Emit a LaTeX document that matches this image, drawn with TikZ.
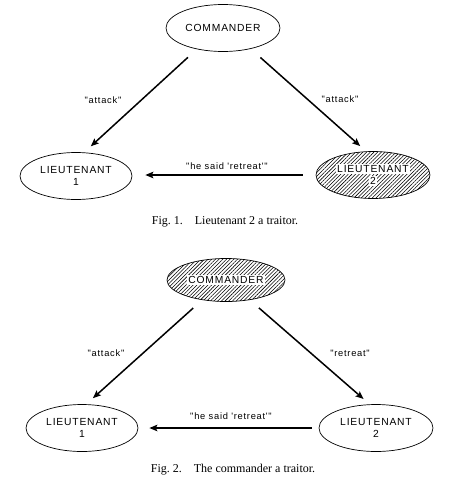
\documentclass[tikz,border=0pt]{standalone}
\usepackage{fontspec}
\setmainfont{Liberation Serif}
\newfontfamily\labelfont[LetterSpace=8,Ligatures=TeXOff]{Liberation Sans}
\usetikzlibrary{arrows.meta,shapes.geometric,patterns.meta}
\newcommand{\wb}[1]{{\setlength{\fboxsep}{1.2pt}\colorbox{white}{#1}}}

\begin{document}
\begin{tikzpicture}[x=1pt,y=-1pt,
party/.style={ellipse,draw,line width=0.7pt,
minimum width=112pt,minimum height=47pt,inner sep=0pt,
align=center,font=\labelfont\fontsize{10.3}{12.5}\selectfont},
traitor/.style={party,pattern={Lines[angle=45,distance=2.6pt,line width=0.55pt]}},
msg/.style={line width=1.5pt,-{Stealth[length=8pt,width=6.5pt,inset=1.5pt]}},
word/.style={font=\labelfont\fontsize{9.3}{11}\selectfont},
figcap/.style={font=\fontsize{12}{14}\selectfont},
]
\useasboundingbox (0,0) rectangle (471,482);
% Fig. 1
\begin{scope}
\node[party, minimum width=114pt] (cmd) at (223,28) {COMMANDER};
\node[party] (lt1) at (76,176) {LIEUTENANT\\1};
\node[traitor, minimum width=114pt] (lt2) at (373,175) {\wb{LIEUTENANT}\\\wb{2}};
\draw[msg, shorten <=12pt, shorten >=9pt] (cmd.219) -- (lt1.71);
\draw[msg, shorten <=13pt, shorten >=8pt] (cmd.323) -- (lt2.106);
\draw[msg, shorten <=13pt, shorten >=13pt] (lt2.west) -- (lt1.east |- lt2.west);
\node[word] (a1) at (103,100) {"attack"};
\node[word] (a2) at (340,99) {"attack"};
\node[word] (r1) at (227,166) {"he said 'retreat'"};
\node[figcap] (cap1) at (225,222) {Fig.\ 1.\quad Lieutenant 2 a traitor.};
\end{scope}
% Fig. 2
\begin{scope}
\node[traitor, minimum width=118pt, minimum height=43pt] (cmd) at (226,280) {\wb{COMMANDER}};
\node[party] (lt1) at (82,428) {LIEUTENANT\\1};
\node[party, minimum width=114pt] (lt2) at (376,428) {LIEUTENANT\\2};
\draw[msg, shorten <=12pt, shorten >=9pt] (cmd.220) -- (lt1.80);
\draw[msg, shorten <=12pt, shorten >=8pt] (cmd.320) -- (lt2.105);
\draw[msg, shorten <=7pt, shorten >=11pt] (lt2.west) -- (lt1.east |- lt2.west);
\node[word] (a3) at (106,353) {"attack"};
\node[word] (r2) at (350,353) {"retreat"};
\node[word] (r3) at (231,416) {"he said 'retreat'"};
\node[figcap] (cap2) at (233,470) {Fig.\ 2.\quad The commander a traitor.};
\end{scope}
\end{tikzpicture}
\end{document}
